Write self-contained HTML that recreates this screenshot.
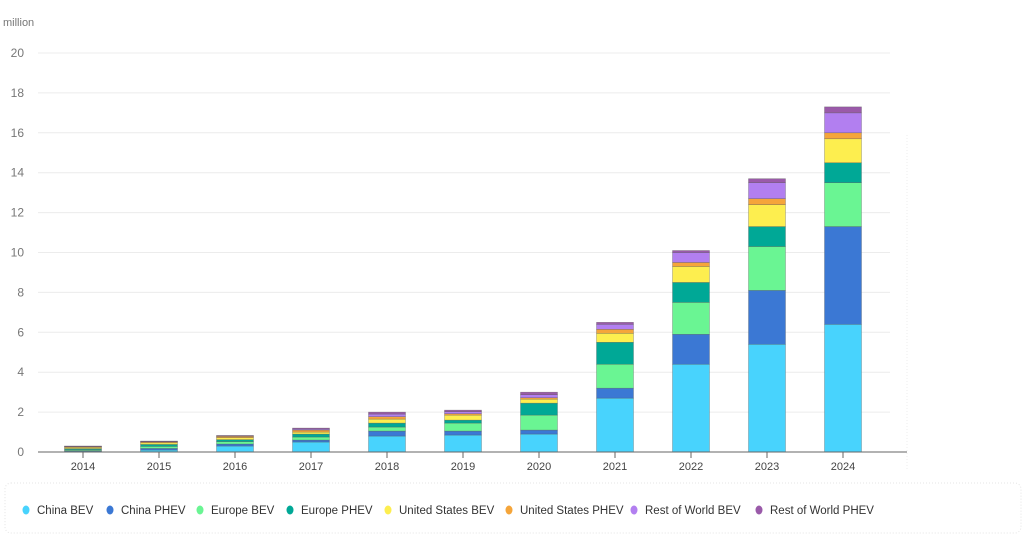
<!DOCTYPE html>
<html><head><meta charset="utf-8"><style>
html,body{margin:0;padding:0;background:#fff;}
svg{display:block;font-family:"Liberation Sans",sans-serif;}
</style></head><body>
<svg id="c" width="1024" height="538" viewBox="0 0 1024 538" xmlns="http://www.w3.org/2000/svg">
<text x="3" y="26" font-size="11" fill="#777">million</text>
<line x1="907" y1="135" x2="907" y2="470" stroke="#eee" stroke-dasharray="1,2"/>
<rect x="5" y="483" width="1016" height="50" rx="6" fill="none" stroke="#e4e4e4" stroke-dasharray="1,2"/>
<g id="g"></g>
</svg>
<script>
(function(){
var g=document.getElementById('g'),ns='http://www.w3.org/2000/svg';
function el(t,a,txt){var e=document.createElementNS(ns,t);for(var k in a)e.setAttribute(k,a[k]);if(txt)e.textContent=txt;g.appendChild(e);return e;}
var Y0=452,S=19.95;
for(var v=0;v<=20;v+=2){var y=Y0-v*S;
 if(v>0)el('line',{x1:38,x2:890,y1:y,y2:y,stroke:'#ececec','stroke-width':1});
 el('text',{x:24,y:y+4,'font-size':12,fill:'#777','text-anchor':'end'},String(v));}
var cols=['#48d3fd','#3b78d4','#6af593','#00a896','#fdee4f','#f5a53a','#b27ff0','#9a5aa9'];
var cum=[
[0.05,0.07,0.12,0.17,0.23,0.28,0.29,0.3],
[0.1,0.18,0.28,0.38,0.46,0.51,0.53,0.55],
[0.3,0.4,0.52,0.62,0.72,0.79,0.81,0.83],
[0.5,0.6,0.75,0.9,1.0,1.1,1.15,1.2],
[0.8,1.05,1.25,1.45,1.65,1.77,1.9,2.0],
[0.85,1.05,1.45,1.6,1.85,1.92,2.02,2.1],
[0.9,1.1,1.85,2.45,2.65,2.72,2.87,3.0],
[2.7,3.2,4.4,5.5,5.95,6.15,6.4,6.5],
[4.4,5.9,7.5,8.5,9.3,9.5,10.0,10.1],
[5.4,8.1,10.3,11.3,12.4,12.7,13.5,13.7],
[6.4,11.3,13.5,14.5,15.7,16.0,17.0,17.3]];
for(var i=0;i<11;i++){var cx=83+i*76,prev=0;
 for(var j=0;j<8;j++){var yt=Y0-cum[i][j]*S,yb=Y0-prev*S;
  el('rect',{x:cx-18.5,y:yt,width:37,height:Math.max(yb-yt,0.5),fill:cols[j],stroke:'#555','stroke-width':0.5,'stroke-opacity':0.6});prev=cum[i][j];}
 el('line',{x1:cx,x2:cx,y1:Y0,y2:Y0+6,stroke:'#666'});
 el('text',{x:cx,y:Y0+18,'font-size':11,fill:'#444','text-anchor':'middle'},String(2014+i));}
el('line',{x1:38,x2:907,y1:Y0,y2:Y0,stroke:'#666','stroke-width':1});
var names=['China BEV','China PHEV','Europe BEV','Europe PHEV','United States BEV','United States PHEV','Rest of World BEV','Rest of World PHEV'];
var xs=[26,110,200,290,388,509,634,759];
for(var k=0;k<8;k++){el('ellipse',{cx:xs[k],cy:510,rx:3.5,ry:4.5,fill:cols[k]});
 el('text',{x:xs[k]+11,y:514,'font-size':11.5,fill:'#333'},names[k]);}
})();
</script>
</body></html>
